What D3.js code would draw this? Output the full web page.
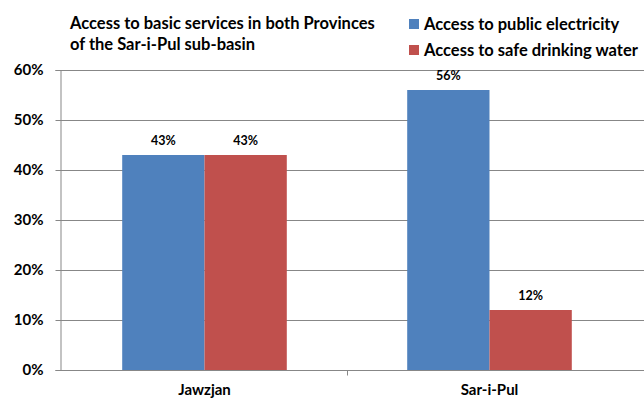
<!DOCTYPE html>
<html>
<head>
<meta charset="utf-8">
<script src="https://cdn.jsdelivr.net/npm/d3@7"></script>
<style>
  body { margin: 0; background: #fff; }
  text { font-family: Lato, "Open Sans", sans-serif; font-weight: bold; fill: #000; }
</style>
</head>
<body>
<div id="chart"></div>
<script>
// Chart data
const categories = ["Jawzjan", "Sar-i-Pul"]
const seriesNames = ["Access to public electricity", "Access to safe drinking water"]
const electricity = [0.43, 0.56]
const water = [0.43, 0.12]
const yTicks = [0, 0.1, 0.2, 0.3, 0.4, 0.5, 0.6]
const titleLines = ["Access to basic services in both Provinces", "of the Sar-i-Pul sub-basin"]
const colors = ["#4F81BD", "#C0504D"]

const WIDTH = 644
const HEIGHT = 401

const svg = d3.select("#chart")
    .append("svg")
    .attr("width", WIDTH)
    .attr("height", HEIGHT)

const plotLeft = 60, plotRight = 632, plotTop = 70, plotBottom = 370

// Scales
const x0 = d3.scaleBand()
    .domain(categories)
    .range([plotLeft + 2, plotRight])
    .paddingInner(0.4225)
    .paddingOuter(0.21125)

const x1 = d3.scaleBand()
    .domain(seriesNames)
    .range([0, x0.bandwidth()])

const y = d3.scaleLinear()
    .domain([0, 0.6])
    .range([plotBottom, plotTop])

// Gridlines
svg.append("g")
    .selectAll("line")
    .data(yTicks.filter(d => d > 0))
    .enter()
    .append("line")
    .attr("x1", plotLeft)
    .attr("x2", WIDTH)
    .attr("y1", d => Math.round(y(d)) + 0.5)
    .attr("y2", d => Math.round(y(d)) + 0.5)
    .style("stroke", "#878787")
    .style("stroke-width", 1)

// Y axis
const yAxis = svg.append("g")
    .attr("transform", `translate(${plotLeft + 0.5},0)`)
    .call(d3.axisLeft(y).tickValues(yTicks).tickFormat(d3.format(".0%")).tickSize(5).tickPadding(12))
yAxis.select(".domain").style("stroke", "#878787")
yAxis.selectAll(".tick line").style("stroke", "#878787")
yAxis.selectAll(".tick text").style("font-size", "15px").style("font-family", "Lato, sans-serif")

// X axis
const xAxis = svg.append("g")
    .attr("transform", `translate(0,${plotBottom + 0.5})`)
    .call(d3.axisBottom(x0).tickSize(0).tickPadding(14))
xAxis.select(".domain").attr("d", `M${plotLeft},0H${WIDTH}`).style("stroke", "#878787")
xAxis.selectAll(".tick text").style("font-size", "15px").style("font-family", "Lato, sans-serif")
// category divider tick
const dividerX = Math.round(x0("Sar-i-Pul") - x0.step() * 0.4225 / 2) + 0.5
xAxis.append("line")
    .attr("x1", dividerX)
    .attr("x2", dividerX)
    .attr("y1", 0).attr("y2", 5)
    .style("stroke", "#878787")

// Bars
const rows = categories.map((c, i) => ({ category: c, values: [electricity[i], water[i]] }))

const groups = svg.append("g")
    .selectAll("g")
    .data(rows)
    .enter()
    .append("g")
    .attr("transform", d => `translate(${x0(d.category)},0)`)

groups.selectAll("rect")
    .data(d => d.values.map((v, j) => ({ series: seriesNames[j], value: v, j })))
    .enter()
    .append("rect")
    .attr("x", d => x1(d.series))
    .attr("width", x1.bandwidth())
    .attr("y", d => y(d.value))
    .attr("height", d => y(0) - y(d.value))
    .style("fill", d => colors[d.j])

groups.selectAll("text")
    .data(d => d.values.map((v, j) => ({ series: seriesNames[j], value: v })))
    .enter()
    .append("text")
    .attr("x", d => x1(d.series) + x1.bandwidth() / 2)
    .attr("y", d => y(d.value) - 10)
    .attr("text-anchor", "middle")
    .style("font-size", "12.5px")
    .text(d => d3.format(".0%")(d.value))

// Title
svg.append("g")
    .selectAll("text")
    .data(titleLines)
    .enter()
    .append("text")
    .attr("x", 70)
    .attr("y", (d, i) => 28.5 + i * 21.5)
    .style("font-size", "16.5px")
    .text(d => d)

// Legend
const legend = svg.append("g")
    .selectAll("g")
    .data(seriesNames)
    .enter()
    .append("g")
    .attr("transform", (d, i) => `translate(409,${24 + i * 26})`)

legend.append("rect")
    .attr("x", 0).attr("y", -5)
    .attr("width", 10).attr("height", 10)
    .style("fill", (d, i) => colors[i])

legend.append("text")
    .attr("x", 15)
    .attr("y", 6)
    .style("font-size", "16.5px")
    .text(d => d)
</script>
</body>
</html>
